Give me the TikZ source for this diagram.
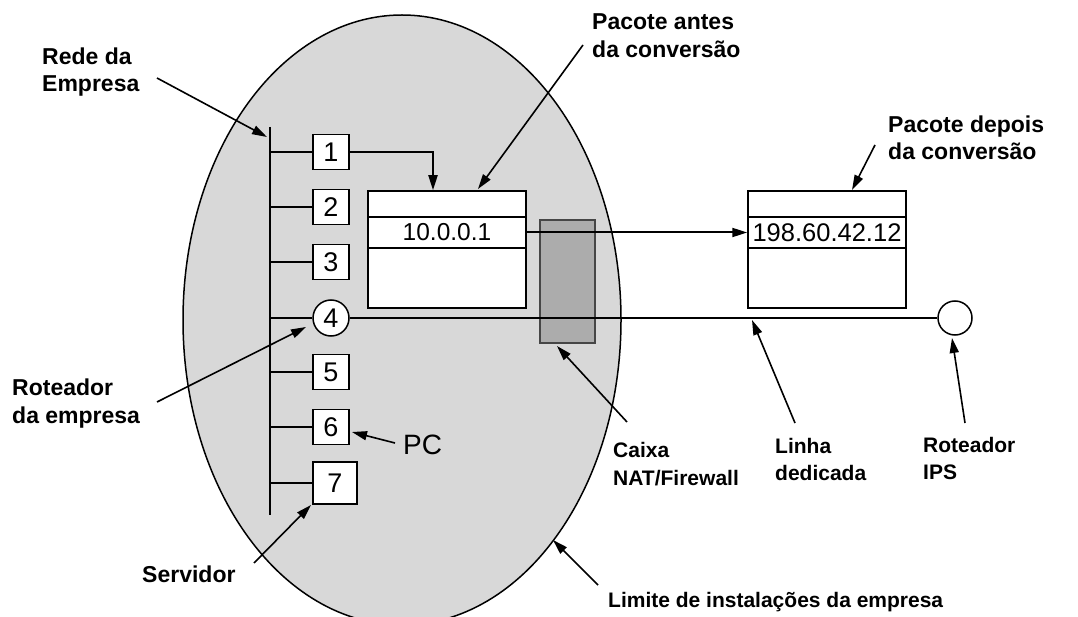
\documentclass[tikz,border=0pt]{standalone}
\usepackage{fontspec}
\setmainfont{Liberation Sans}
\usetikzlibrary{arrows.meta,shapes.geometric}
\definecolor{ellfill}{RGB}{216,216,216}
\definecolor{fwfill}{RGB}{172,172,172}
\definecolor{fwline}{RGB}{70,70,70}
\begin{document}
\begin{tikzpicture}[x=1pt,y=-1pt,
  lbl/.style={font=\fontsize{23}{28}\selectfont\bfseries, inner sep=0, anchor=base west},
  lblsm/.style={font=\fontsize{21}{26}\selectfont\bfseries, inner sep=0, anchor=base west},
  arr/.style={-{Triangle[length=15pt,width=9pt]}, line width=1.6pt},
  hbox/.style={draw, fill=white, line width=1.5pt, minimum width=36pt, minimum height=35pt, inner sep=0, font=\fontsize{27}{27}\selectfont},
  pkt/.style={draw, fill=white, line width=1.5pt, minimum width=158pt, minimum height=117pt, inner sep=0},
  pktrow/.style={draw, line width=1.5pt, minimum width=158pt, minimum height=31pt, inner sep=0},
  wire/.style={line width=1.7pt}]
\useasboundingbox (0,0) rectangle (1078,617);
\clip (0,0) rectangle (1078,617);
% premises ellipse
\node[draw, fill=ellfill, line width=1.5pt, ellipse, minimum width=438pt, minimum height=610pt, inner sep=0] (prem) at (402,320) {};
% firewall
\node[draw=fwline, fill=fwfill, line width=1.4pt, minimum width=55pt, minimum height=123pt, inner sep=0] (fw) at (567.5,281.5) {};
% bus
\coordinate (bustop) at (270,127);
\coordinate (busbot) at (270,515);
\draw[line width=2.8pt] (bustop) -- (busbot);
% hosts
\node[hbox] (b1) at (331,152) {1};
\node[hbox] (b2) at (331,207) {2};
\node[hbox] (b3) at (331,262) {3};
\node[hbox, circle, minimum size=36pt] (r4) at (331,318) {4};
\node[hbox] (b5) at (331,372) {5};
\node[hbox] (b6) at (331,427) {6};
\node[hbox, minimum width=44pt, minimum height=42pt] (b7) at (335,483) {7};
\foreach \n in {b1,b2,b3,r4,b5,b6,b7}
  \draw[wire] (\n.west) -- (\n.west -| bustop);
% packets
\node[pkt] (pkt1) at (447,249.5) {};
\node[pktrow, font=\fontsize{24.5}{24.5}\selectfont] (ip1) at (447,232.5) {10.0.0.1};
\node[pkt] (pkt2) at (827,249.5) {};
\node[pktrow, font=\fontsize{25.5}{25.5}\selectfont] (ip2) at (827,232.5) {198.60.42.12};
% ISP router
\node[draw, fill=white, circle, line width=1.5pt, minimum size=34pt, inner sep=0] (ips) at (955,318) {};
% connections
\draw[arr, line width=2pt] (b1.east) -| ([xshift=-14pt]pkt1.north);
\draw[arr, line width=2pt] (ip1.east) -- (ip2.west);
\draw[line width=2pt] (r4.east) -- (ips.west);
% labels
\node[lbl] (rede1) at (42,65) {Rede da};
\node[lbl] (rede2) at (42,92) {Empresa};
\node[lbl] (pa1) at (592,30) {Pacote antes};
\node[lbl] (pa2) at (592,58) {da conversão};
\node[lbl] (pd1) at (888,133) {Pacote depois};
\node[lbl] (pd2) at (888,160) {da conversão};
\node[lbl] (re1) at (12,395) {Roteador};
\node[lbl] (re2) at (12,423) {da empresa};
\node[lbl] (serv) at (142,582) {Servidor};
\node[inner sep=0, anchor=base west, font=\fontsize{28}{28}\selectfont] (pc) at (403,454) {PC};
\node[lblsm] (cx1) at (613,457) {Caixa};
\node[lblsm] (cx2) at (613,485) {NAT/Firewall};
\node[lblsm] (ld1) at (775,453) {Linha};
\node[lblsm] (ld2) at (775,480) {dedicada};
\node[lblsm] (ri1) at (923,452) {Roteador};
\node[lblsm] (ri2) at (923,479) {IPS};
\node[lblsm] (lim) at (608,607) {Limite de instalações da empresa};
% label arrows
\coordinate (aRedeS) at (157,78);   \coordinate (aRedeT) at (267,137);
\coordinate (aPaS) at (583,45);     \coordinate (aPaT) at (478,189);
\coordinate (aPdS) at (875,145);    \coordinate (aPdT) at (852,190);
\coordinate (aPcS) at (395,443);    \coordinate (aPcT) at (352,432);
\coordinate (aReS) at (157,402);    \coordinate (aReT) at (306,327);
\coordinate (aSvS) at (254,563);    \coordinate (aSvT) at (311,505);
\coordinate (aCxS) at (627,422);    \coordinate (aCxT) at (557,346);
\coordinate (aLdS) at (795,423);    \coordinate (aLdT) at (752,320);
\coordinate (aIpS) at (965,423);    \coordinate (aIpT) at (952,338);
\coordinate (aLmS) at (598,585);    \coordinate (aLmT) at (553,540);
\draw[arr] (aRedeS) -- (aRedeT);
\draw[arr] (aPaS) -- (aPaT);
\draw[arr] (aPdS) -- (aPdT);
\draw[arr] (aPcS) -- (aPcT);
\draw[arr] (aReS) -- (aReT);
\draw[arr] (aSvS) -- (aSvT);
\draw[arr] (aCxS) -- (aCxT);
\draw[arr] (aLdS) -- (aLdT);
\draw[arr] (aIpS) -- (aIpT);
\draw[arr] (aLmS) -- (aLmT);
\end{tikzpicture}
\end{document}
